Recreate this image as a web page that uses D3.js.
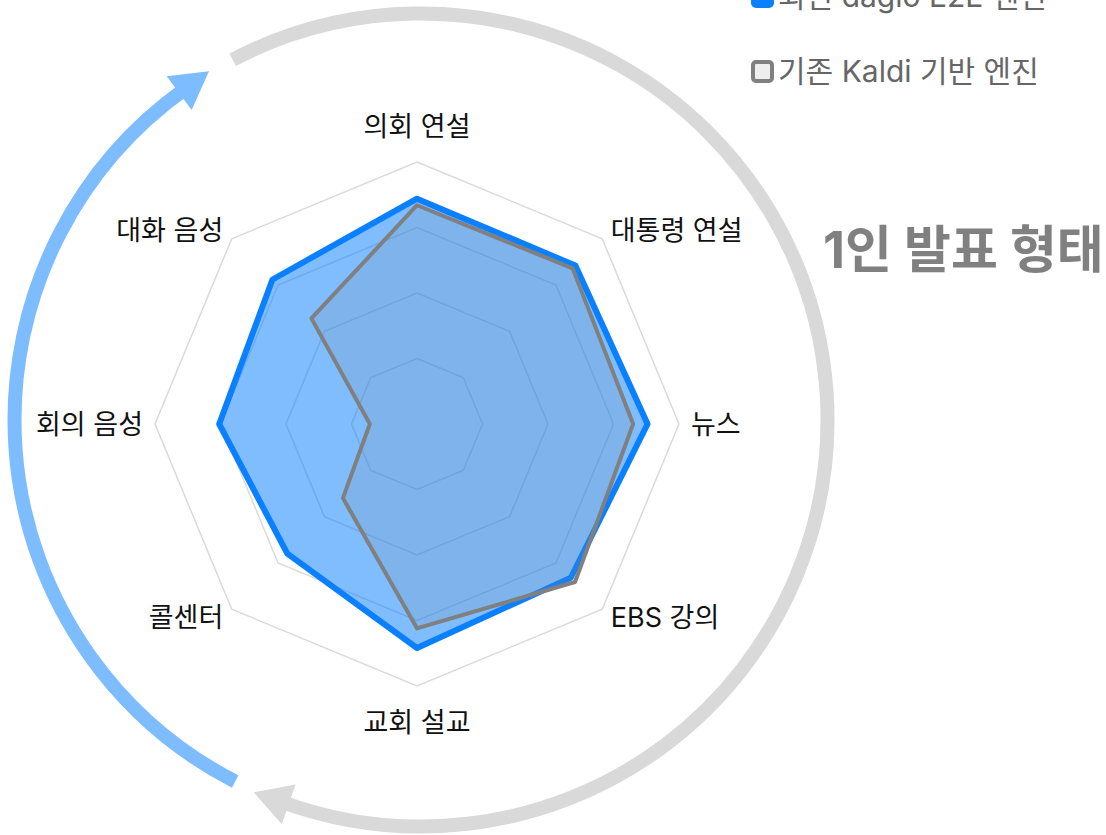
<!DOCTYPE html>
<html>
<head>
<meta charset="utf-8">
<script src="https://cdn.jsdelivr.net/npm/d3@7"></script>
<style>
  body { margin: 0; background: #fff; }
  svg { display: block; font-family: Inter, "Noto Sans CJK KR", sans-serif; }
</style>
</head>
<body>
<script>
// radar chart: daglo vs kaldi, by speech type

var w = 1106;
var h = 835;
var cx = 417;
var cy = 424;
var R = 262;

var categories = ["의회 연설", "대통령 연설", "뉴스", "EBS 강의", "교회 설교", "콜센터", "회의 음성", "대화 음성"];
var dagloValues = [86, 85.5, 88, 83, 85.5, 70, 75.5, 78];
var kaldiValues = [83.5, 84, 82.5, 85.3, 78, 40, 18, 57];
var gridTicks = [25, 50, 75, 100];
var seriesNames = ["최신 daglo E2E 엔진", "기존 Kaldi 기반 엔진"];
var titleText = "1인 발표 형태";

var angle = d3.scaleLinear()
  .domain([0, categories.length])
  .range([0, 2 * Math.PI]);

var rScale = d3.scaleLinear()
  .domain([0, 100])
  .range([0, R]);

function px(i, v) { return cx + rScale(v) * Math.sin(angle(i)); }
function py(i, v) { return cy - rScale(v) * Math.cos(angle(i)); }

var svg = d3.select("body")
  .append("svg")
  .attr("width", w)
  .attr("height", h);

// big cycle arrows around the chart
var ax = 421, ay = 420, ar = 406.5;
function arcPt(deg, r) {
  var a = deg * Math.PI / 180;
  return [ax + r * Math.sin(a), ay - r * Math.cos(a)];
}
function arcPath(d0, d1) {
  // clockwise from d0 to d1 (degrees from top)
  var p = d3.path();
  var s = arcPt(d0, ar);
  p.moveTo(s[0], s[1]);
  p.arc(ax, ay, ar, (d0 - 90) * Math.PI / 180, (d1 - 90) * Math.PI / 180, false);
  return p.toString();
}
function headPath(baseDeg, len, half) {
  var b = arcPt(baseDeg, ar);
  var a = baseDeg * Math.PI / 180;
  var tx = Math.cos(a), ty = Math.sin(a);     // clockwise tangent
  var nx = Math.sin(a), ny = -Math.cos(a);    // outward normal
  return "M" + (b[0] + tx * len) + "," + (b[1] + ty * len) +
    "L" + (b[0] + nx * half) + "," + (b[1] + ny * half) +
    "L" + (b[0] - nx * half) + "," + (b[1] - ny * half) + "Z";
}

var arrows = [
  { from: 332.4, to: 560, color: "#d9d9d9" },
  { from: 207.2, to: 324.5, color: "#7dbcff" }
];

svg.selectAll("path.cycle")
  .data(arrows)
  .enter()
  .append("path")
  .attr("class", "cycle")
  .attr("d", function(d) { return arcPath(d.from, d.to); })
  .attr("fill", "none")
  .attr("stroke", function(d) { return d.color; })
  .attr("stroke-width", 14);

svg.selectAll("path.head")
  .data(arrows)
  .enter()
  .append("path")
  .attr("class", "head")
  .attr("d", function(d) { return headPath(d.to - 1, 37, 21); })
  .attr("fill", function(d) { return d.color; });

// grid octagons
var line = d3.line();

svg.selectAll("path.grid")
  .data(gridTicks)
  .enter()
  .append("path")
  .attr("class", "grid")
  .attr("d", function(t) {
    return line(categories.map(function(c, i) { return [px(i, t), py(i, t)]; })) + "Z";
  })
  .attr("fill", "none")
  .attr("stroke", "#dadada")
  .attr("stroke-width", 1.5);

// data series
var series = [
  { name: seriesNames[0], values: dagloValues, fill: "rgba(0,123,255,0.5)", stroke: "#0a80ff", width: 6 },
  { name: seriesNames[1], values: kaldiValues, fill: "rgba(128,128,128,0.15)", stroke: "#808080", width: 4 }
];

svg.selectAll("path.series")
  .data(series)
  .enter()
  .append("path")
  .attr("class", "series")
  .attr("d", function(s) {
    return line(s.values.map(function(v, i) { return [px(i, v), py(i, v)]; })) + "Z";
  })
  .attr("fill", function(s) { return s.fill; })
  .attr("stroke", function(s) { return s.stroke; })
  .attr("stroke-width", function(s) { return s.width; })
  .attr("stroke-linejoin", "round");

// point labels
svg.selectAll("text.label")
  .data(categories)
  .enter()
  .append("text")
  .attr("class", "label")
  .text(function(d) { return d; })
  .attr("x", function(d, i) { return px(i, 100) + 12 * Math.sin(angle(i)); })
  .attr("y", function(d, i) {
    var c = Math.cos(angle(i));
    var y = py(i, 100) - 12 * c;
    if (Math.abs(c) > 0.9) y -= c * 24;
    return y;
  })
  .attr("text-anchor", function(d, i) {
    var s = Math.sin(angle(i));
    if (s > 0.1) return "start";
    if (s < -0.1) return "end";
    return "middle";
  })
  .attr("dominant-baseline", "central")
  .attr("font-size", "27px")
  .attr("fill", "#111");

// title
svg.append("text")
  .text(titleText)
  .attr("x", 823)
  .attr("y", 249)
  .attr("dominant-baseline", "central")
  .attr("font-size", "51px")
  .attr("font-weight", "bold")
  .attr("fill", "#808080");

// legend
var legend = svg.selectAll("g.legend")
  .data(series)
  .enter()
  .append("g")
  .attr("class", "legend")
  .attr("transform", function(d, i) { return "translate(751," + (-4 + i * 75) + ")"; });

legend.append("rect")
  .attr("x", 2)
  .attr("y", -9)
  .attr("width", 19)
  .attr("height", 19)
  .attr("rx", 3)
  .attr("fill", function(d, i) { return i == 0 ? "#0a80ff" : "#eeeeee"; })
  .attr("stroke", function(d, i) { return i == 0 ? "#0a80ff" : "#808080"; })
  .attr("stroke-width", 4);

legend.append("text")
  .text(function(d) { return d.name; })
  .attr("x", 27)
  .attr("y", 0)
  .attr("dominant-baseline", "central")
  .attr("font-size", "30px")
  .attr("fill", "#666");
</script>
</body>
</html>
